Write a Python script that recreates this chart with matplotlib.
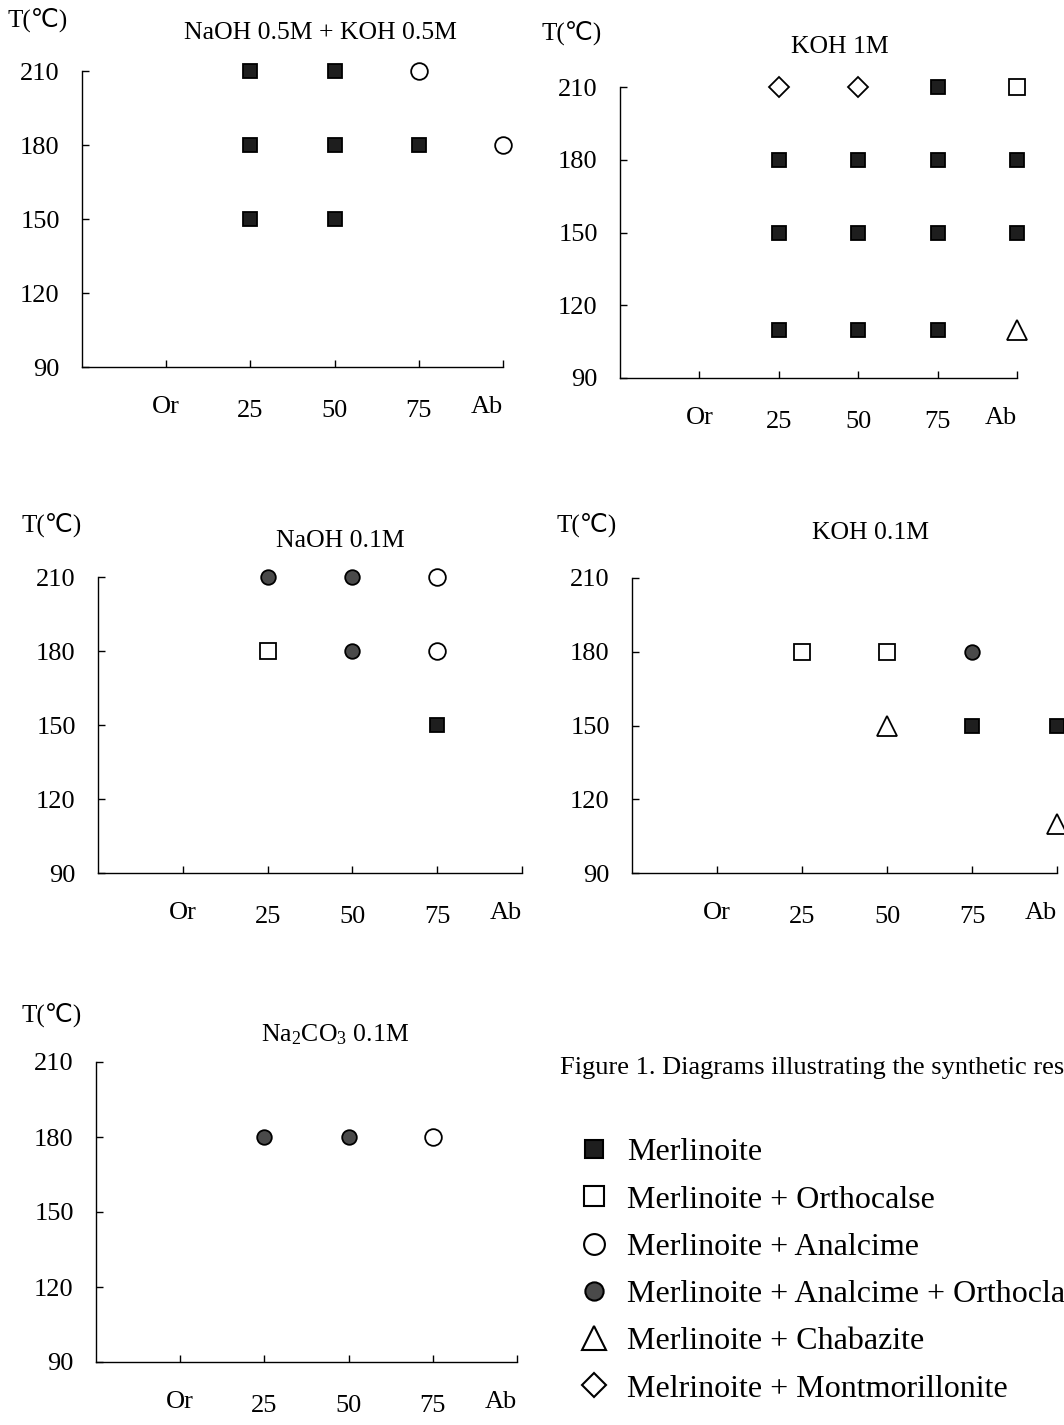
import matplotlib.pyplot as plt
from matplotlib.lines import Line2D
from matplotlib.transforms import ScaledTranslation

plt.rcParams['font.family'] = ['Liberation Serif', 'DejaVu Sans']
plt.rcParams['mathtext.fontset'] = 'custom'
plt.rcParams['mathtext.rm'] = 'Liberation Serif'
plt.rcParams['mathtext.default'] = 'regular'

# composition axis: Or = 0, Ab = 100 (% albite)
comp_ticks = [0, 25, 50, 75, 100]
comp_labels = ['Or', '25', '50', '75', 'Ab']
temp_ticks = [90, 120, 150, 180, 210]

# NaOH 0.5M + KOH 0.5M
p1_comp = [25, 50, 75, 25, 50, 75, 100, 25, 50]
p1_temp = [210, 210, 210, 180, 180, 180, 180, 150, 150]
p1_phase = ['M', 'M', 'MA', 'M', 'M', 'M', 'MA', 'M', 'M']

# KOH 1M
p2_comp = [25, 50, 75, 100, 25, 50, 75, 100, 25, 50, 75, 100, 25, 50, 75, 100]
p2_temp = [210, 210, 210, 210, 180, 180, 180, 180, 150, 150, 150, 150, 110, 110, 110, 110]
p2_phase = ['MM', 'MM', 'M', 'MO', 'M', 'M', 'M', 'M', 'M', 'M', 'M', 'M', 'M', 'M', 'M', 'MC']

# NaOH 0.1M
p3_comp = [25, 50, 75, 25, 50, 75, 75]
p3_temp = [210, 210, 210, 180, 180, 180, 150]
p3_phase = ['MAO', 'MAO', 'MA', 'MO', 'MAO', 'MA', 'M']

# KOH 0.1M
p4_comp = [25, 50, 75, 50, 75, 100, 100]
p4_temp = [180, 180, 180, 150, 150, 150, 110]
p4_phase = ['MO', 'MO', 'MAO', 'MC', 'M', 'M', 'MC']

# Na2CO3 0.1M
p5_comp = [25, 50, 75]
p5_temp = [180, 180, 180]
p5_phase = ['MAO', 'MAO', 'MA']

phase_names = {
    'M': 'Merlinoite',
    'MO': 'Merlinoite + Orthocalse',
    'MA': 'Merlinoite + Analcime',
    'MAO': 'Merlinoite + Analcime + Orthoclase',
    'MC': 'Merlinoite + Chabazite',
    'MM': 'Melrinoite + Montmorillonite',
}
phase_order = ['M', 'MO', 'MA', 'MAO', 'MC', 'MM']

# marker, size, face colour
phase_style = {
    'M': ('s', 10.5, '#1e1e1e'),
    'MO': ('s', 12, 'white'),
    'MA': ('o', 12, 'white'),
    'MAO': ('o', 10.5, '#4a4a4a'),
    'MC': ('^', 14, 'white'),
    'MM': ('D', 10, 'white'),
}

W, H = 1064, 1425
fig = plt.figure(figsize=(W / 100, H / 100), dpi=100)


def px_axes(left, right, top, bottom):
    return fig.add_axes([left / W, 1 - bottom / H, (right - left) / W, (bottom - top) / H])


def draw_panel(ax, comp, temp, phase):
    for x, y, p in zip(comp, temp, phase):
        m, s, fc = phase_style[p]
        ax.plot(x, y, marker=m, markersize=s, markerfacecolor=fc,
                markeredgecolor='black', markeredgewidth=1.3,
                linestyle='none', clip_on=False)
    ax.set_xlim(-25, 100)
    ax.set_ylim(90, 210)
    ax.set_xticks(comp_ticks)
    ax.set_xticklabels(comp_labels)
    ax.set_yticks(temp_ticks)
    for s in ['top', 'right']:
        ax.spines[s].set_visible(False)
    for s in ['left', 'bottom']:
        ax.spines[s].set_linewidth(1.0)
    ax.tick_params(axis='x', direction='in', length=5, width=1.0, pad=24, labelsize=19)
    ax.tick_params(axis='y', direction='in', length=5, width=1.0, pad=16, labelsize=19)
    # end-member labels sit a little higher, Ab pulled left of its tick
    labels = ax.get_xticklabels()
    labels[0].set_transform(labels[0].get_transform() + ScaledTranslation(0, 0.04, fig.dpi_scale_trans))
    labels[-1].set_transform(labels[-1].get_transform() + ScaledTranslation(-0.16, 0.04, fig.dpi_scale_trans))
    ax.patch.set_alpha(0)


panels = [
    ((82, 503, 71, 367), p1_comp, p1_temp, p1_phase, 'NaOH 0.5M + KOH 0.5M', (320, 33), (38, 20)),
    ((620, 1017, 87, 378), p2_comp, p2_temp, p2_phase, 'KOH 1M', (840, 47), (572, 33)),
    ((98, 522, 577, 873), p3_comp, p3_temp, p3_phase, 'NaOH 0.1M', (340, 541), (52, 525)),
    ((632, 1057, 578, 873), p4_comp, p4_temp, p4_phase, 'KOH 0.1M', (870, 533), (587, 525)),
    ((96, 517, 1062, 1362), p5_comp, p5_temp, p5_phase, 'Na$_2$CO$_3$ 0.1M', (335, 1035), (52, 1015)),
]

for box, comp, temp, phase, title, tpos, lpos in panels:
    ax = px_axes(*box)
    draw_panel(ax, comp, temp, phase)
    fig.text(tpos[0] / W, 1 - tpos[1] / H, title, ha='center', va='center', fontsize=18.5)
    fig.text(lpos[0] / W, 1 - lpos[1] / H, 'T(℃)', ha='center', va='center', fontsize=18)

fig.text(560 / W, 1 - 1068 / H, 'Figure 1. Diagrams illustrating the synthetic results',
         ha='left', va='center', fontsize=19)

handles = []
for p in phase_order:
    m, s, fc = phase_style[p]
    handles.append(Line2D([], [], marker=m, markersize=s * 1.25, markerfacecolor=fc,
                          markeredgecolor='black', markeredgewidth=1.5, linestyle='none'))
fig.legend(handles, [phase_names[p] for p in phase_order],
           loc='upper left', bbox_to_anchor=(562 / W, 1 - 1122 / H),
           frameon=False, fontsize=23, labelspacing=0.56,
           handlelength=1.0, handletextpad=0.55, borderpad=0)

fig.savefig('out.png', dpi=100)
